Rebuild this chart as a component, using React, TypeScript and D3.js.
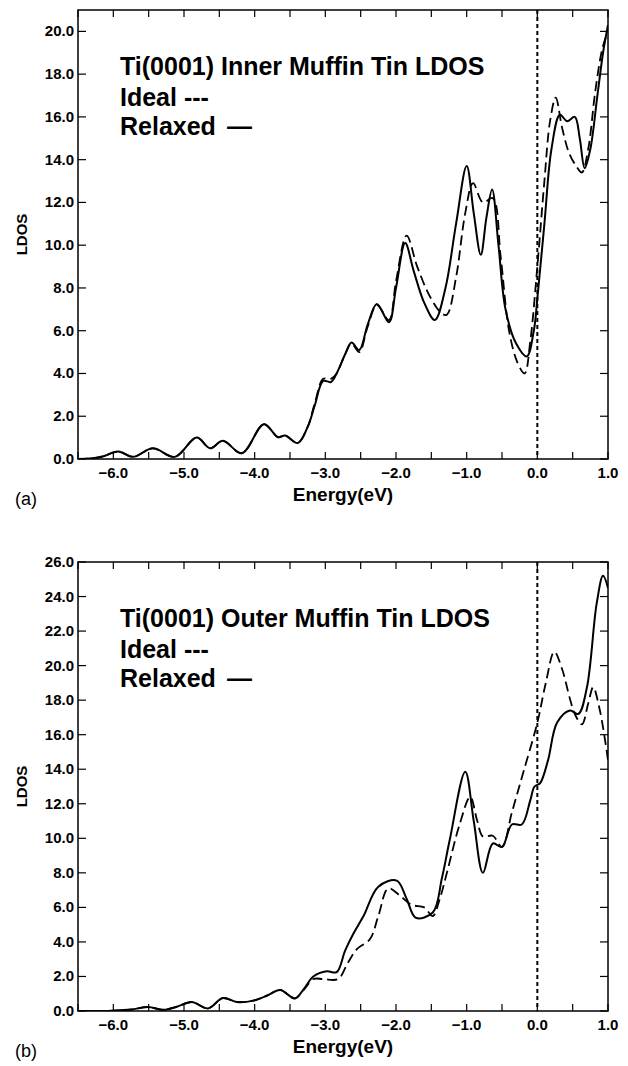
import React from "react";
import * as d3 from "d3";

// energies (eV) and LDOS values
const innerRelaxed: [number, number][] = [
  [-6.5, 0], [-6.3, 0.03], [-6.15, 0.12], [-5.93, 0.35], [-5.72, 0.1], [-5.44, 0.5],
  [-5.13, 0.1], [-4.82, 1.0], [-4.63, 0.5], [-4.45, 0.85], [-4.18, 0.27], [-3.87, 1.63],
  [-3.67, 1.02], [-3.57, 1.1], [-3.39, 0.75], [-3.25, 1.5], [-3.15, 2.5], [-3.03, 3.65],
  [-2.92, 3.6], [-2.84, 4.0], [-2.72, 4.9], [-2.63, 5.45], [-2.52, 5.1], [-2.4, 6.3],
  [-2.27, 7.25], [-2.1, 6.4], [-2.0, 8.0], [-1.87, 10.1], [-1.75, 8.8], [-1.6, 7.3],
  [-1.45, 6.5], [-1.3, 8.0], [-1.15, 11.0], [-1.0, 13.7], [-0.9, 11.5], [-0.8, 9.55],
  [-0.72, 11.3], [-0.64, 12.6], [-0.55, 10.0], [-0.45, 7.0], [-0.3, 5.4], [-0.15, 4.8],
  [-0.05, 6.0], [0.0, 7.5], [0.1, 11.0], [0.2, 14.5], [0.32, 16.1], [0.42, 15.8],
  [0.53, 16.0], [0.6, 15.0], [0.67, 13.6], [0.75, 14.5], [0.85, 17.0], [0.93, 19.0], [1.0, 20.3],
];

const innerIdeal: [number, number][] = [
  [-6.5, 0], [-6.3, 0.03], [-6.15, 0.12], [-5.93, 0.35], [-5.72, 0.1], [-5.44, 0.5],
  [-5.13, 0.1], [-4.82, 1.0], [-4.63, 0.5], [-4.45, 0.85], [-4.18, 0.27], [-3.87, 1.63],
  [-3.67, 1.02], [-3.57, 1.1], [-3.39, 0.75], [-3.25, 1.5], [-3.15, 2.6], [-3.03, 3.75],
  [-2.92, 3.75], [-2.84, 4.0], [-2.72, 4.9], [-2.63, 5.4], [-2.52, 5.0], [-2.4, 6.2],
  [-2.27, 7.2], [-2.1, 6.5], [-2.0, 8.3], [-1.85, 10.45], [-1.7, 9.0], [-1.52, 7.6],
  [-1.35, 6.8], [-1.28, 6.75], [-1.15, 8.5], [-1.02, 11.5], [-0.91, 12.9], [-0.77, 12.0],
  [-0.63, 12.2], [-0.52, 9.5], [-0.4, 6.0], [-0.28, 4.5], [-0.18, 4.0], [-0.1, 5.5],
  [0.0, 9.0], [0.1, 13.0], [0.18, 15.8], [0.26, 16.9], [0.35, 15.5], [0.45, 14.3],
  [0.55, 13.7], [0.63, 13.4], [0.72, 14.5], [0.82, 17.2], [0.92, 19.2], [1.0, 20.0],
];

const outerRelaxed: [number, number][] = [
  [-6.5, 0], [-6.0, 0.02], [-5.75, 0.08], [-5.51, 0.23], [-5.29, 0.07], [-5.1, 0.25],
  [-4.89, 0.52], [-4.66, 0.15], [-4.45, 0.75], [-4.25, 0.52], [-4.02, 0.6], [-3.82, 0.9],
  [-3.64, 1.22], [-3.43, 0.73], [-3.3, 1.3], [-3.17, 2.0], [-2.98, 2.3], [-2.84, 2.25],
  [-2.72, 3.5], [-2.6, 4.5], [-2.46, 5.5], [-2.25, 7.2], [-1.99, 7.55], [-1.85, 6.5],
  [-1.72, 5.4], [-1.48, 5.7], [-1.35, 7.7], [-1.24, 9.9], [-1.02, 13.85], [-0.9, 11.0],
  [-0.77, 8.0], [-0.63, 9.7], [-0.5, 9.5], [-0.36, 10.8], [-0.22, 10.8], [-0.1, 12.2],
  [-0.04, 13.0], [0.04, 13.2], [0.15, 14.5], [0.28, 16.7], [0.46, 17.4], [0.58, 17.2],
  [0.7, 18.7], [0.84, 23.6], [0.93, 25.2], [1.0, 24.5],
];

const outerIdeal: [number, number][] = [
  [-6.5, 0], [-6.0, 0.02], [-5.75, 0.08], [-5.51, 0.23], [-5.29, 0.07], [-5.1, 0.25],
  [-4.89, 0.52], [-4.66, 0.15], [-4.45, 0.75], [-4.25, 0.52], [-4.02, 0.6], [-3.82, 0.9],
  [-3.64, 1.22], [-3.43, 0.73], [-3.3, 1.25], [-3.17, 1.85], [-3.03, 1.85], [-2.82, 1.85],
  [-2.68, 2.8], [-2.55, 3.6], [-2.37, 4.15], [-2.25, 5.5], [-2.11, 7.1], [-1.95, 6.7],
  [-1.78, 6.15], [-1.6, 6.0], [-1.48, 5.5], [-1.38, 6.5], [-1.28, 8.0], [-1.1, 10.8],
  [-0.95, 12.4], [-0.85, 11.0], [-0.77, 10.1], [-0.63, 10.15], [-0.5, 9.5], [-0.36, 11.5],
  [-0.2, 13.8], [0.0, 16.7], [0.12, 19.0], [0.24, 20.8], [0.35, 19.8], [0.46, 18.1],
  [0.53, 17.2], [0.63, 16.6], [0.72, 17.8], [0.79, 18.75], [0.88, 17.5], [0.98, 15.1], [1.0, 14.5],
];

const xTicks = [-6.5, -6.0, -5.5, -5.0, -4.5, -4.0, -3.5, -3.0, -2.5, -2.0, -1.5, -1.0, -0.5, 0.0, 0.5, 1.0];
const xLabels = [-6.0, -5.0, -4.0, -3.0, -2.0, -1.0, 0.0, 1.0];
const innerYTicks = [0, 2, 4, 6, 8, 10, 12, 14, 16, 18, 20];
const outerYTicks = [0, 2, 4, 6, 8, 10, 12, 14, 16, 18, 20, 22, 24, 26];

const FONT = "'Liberation Sans', Arial, Helvetica, sans-serif";

const Panel = ({ top, yMax, yTicks, relaxed, ideal, title, tag }) => {
  const left = 78, right = 608, bottom = top + 449;
  const x = d3.scaleLinear().domain([-6.5, 1.0]).range([left, right]);
  const y = d3.scaleLinear().domain([0, yMax]).range([bottom, top]);
  const line = d3
    .line<[number, number]>()
    .x(d => x(d[0]))
    .y(d => y(d[1]))
    .curve(d3.curveCatmullRom.alpha(0.5));
  const fmt = d3.format(".1f");

  return (
    <g>
      <defs>
        <clipPath id={`clip-${tag}`}>
          <rect x={left} y={top} width={right - left} height={bottom - top} />
        </clipPath>
      </defs>
      {/* frame */}
      <rect x={left} y={top} width={right - left} height={bottom - top} fill="none" stroke="#000" strokeWidth={1.5} />
      {/* x ticks, bottom and top, pointing in */}
      {xTicks.map(t => (
        <g key={t}>
          <line x1={x(t)} x2={x(t)} y1={bottom} y2={bottom - 7} stroke="#000" strokeWidth={1.2} />
          <line x1={x(t)} x2={x(t)} y1={top} y2={top + 7} stroke="#000" strokeWidth={1.2} />
        </g>
      ))}
      {xLabels.map(t => (
        <text key={t} x={x(t)} y={bottom + 19} textAnchor="middle" fontFamily={FONT} fontWeight="bold" fontSize={15}>
          {fmt(t)}
        </text>
      ))}
      {/* y ticks, left and right */}
      {yTicks.map(t => (
        <g key={t}>
          <line x1={left} x2={left + 8} y1={y(t)} y2={y(t)} stroke="#000" strokeWidth={1.2} />
          <line x1={right} x2={right - 8} y1={y(t)} y2={y(t)} stroke="#000" strokeWidth={1.2} />
          <text x={left - 4} y={y(t) + 5} textAnchor="end" fontFamily={FONT} fontWeight="bold" fontSize={15}>
            {fmt(t)}
          </text>
        </g>
      ))}
      {/* Fermi level */}
      <line x1={x(0)} x2={x(0)} y1={top} y2={bottom} stroke="#000" strokeWidth={2} strokeDasharray="4,3" />
      <g clipPath={`url(#clip-${tag})`}>
        <path d={line(ideal)} fill="none" stroke="#000" strokeWidth={1.8} strokeDasharray="10,5" />
        <path d={line(relaxed)} fill="none" stroke="#000" strokeWidth={2} />
      </g>
      {/* legend text */}
      <g fontFamily={FONT} fontWeight="bold" fontSize={25}>
        <text x={120} y={top + 65}>{title}</text>
        <text x={120} y={top + 96}>Ideal ---</text>
        <text x={120} y={top + 125}>Relaxed</text>
        <text x={227} y={top + 125}>—</text>
      </g>
      <text
        transform={`translate(27 ${(top + bottom) / 2}) rotate(-90)`}
        textAnchor="middle"
        fontFamily={FONT}
        fontWeight="bold"
        fontSize={15}
      >
        LDOS
      </text>
      <text x={(left + right) / 2} y={bottom + 42} textAnchor="middle" fontFamily={FONT} fontWeight="bold" fontSize={19}>
        Energy(eV)
      </text>
      <text x={15} y={bottom + 46} fontFamily={FONT} fontSize={18}>
        {tag === "a" ? "(a)" : "(b)"}
      </text>
    </g>
  );
};

const App = () => (
  <svg width={628} height={1066} style={{ position: "absolute", left: 0, top: 0, background: "#fff" }}>
    <rect width={628} height={1066} fill="#fff" />
    <Panel top={10} yMax={21} yTicks={innerYTicks} relaxed={innerRelaxed} ideal={innerIdeal}
      title="Ti(0001) Inner Muffin Tin LDOS" tag="a" />
    <Panel top={562} yMax={26} yTicks={outerYTicks} relaxed={outerRelaxed} ideal={outerIdeal}
      title="Ti(0001) Outer Muffin Tin LDOS" tag="b" />
  </svg>
);

export default App;
